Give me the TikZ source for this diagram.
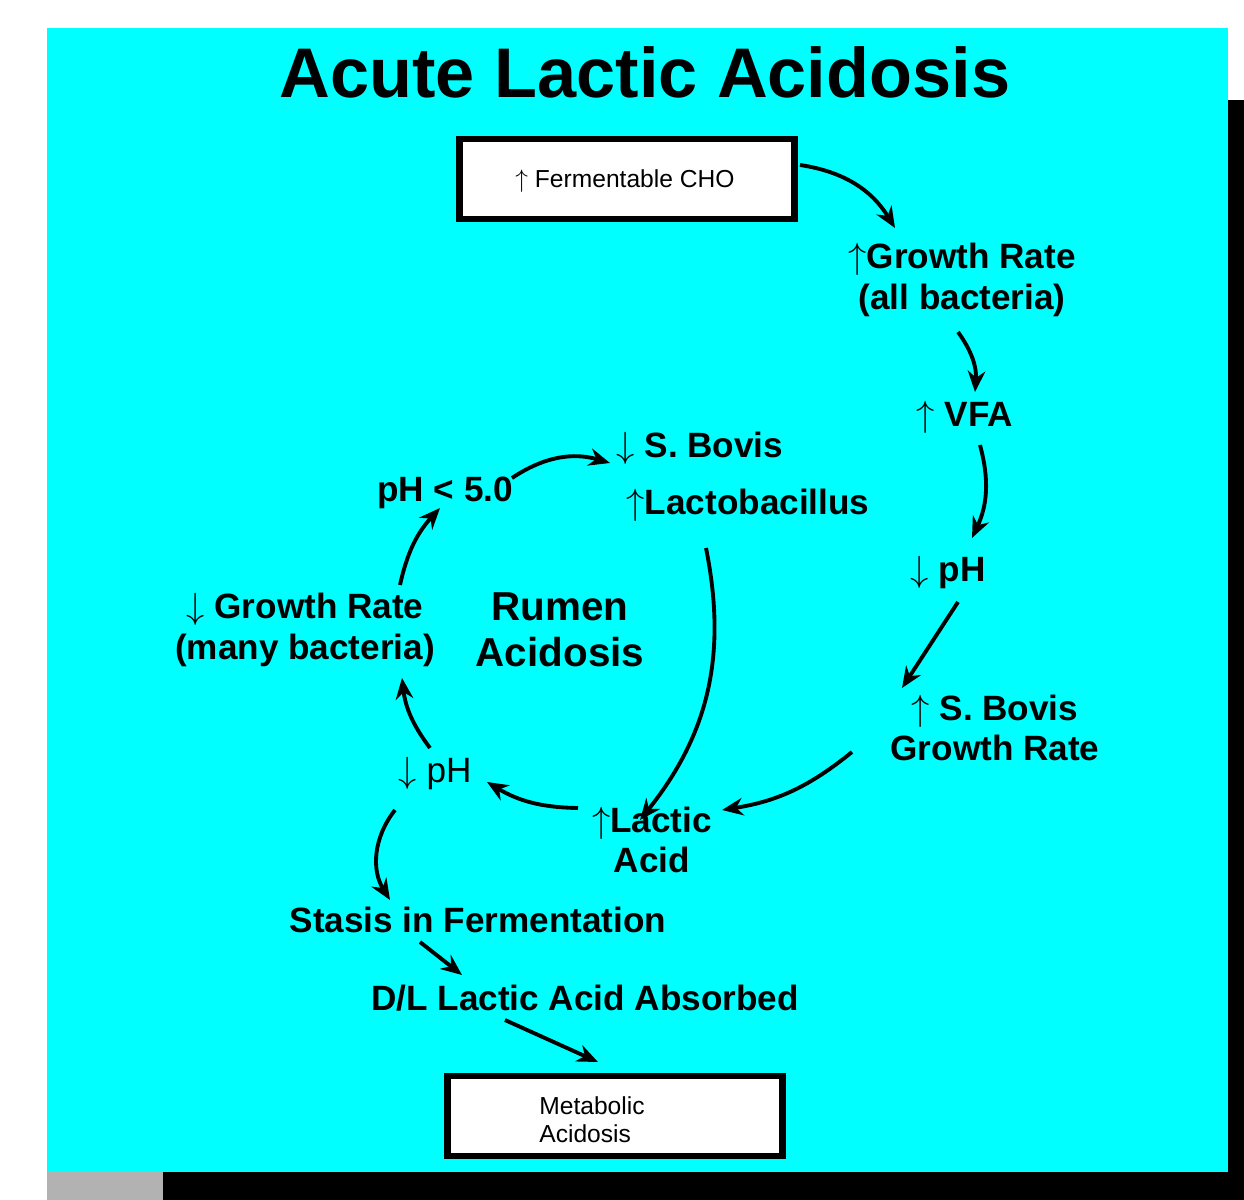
\documentclass[tikz,border=0pt]{standalone}
\usepackage{fontspec}
\setmainfont{Liberation Sans}
\usetikzlibrary{arrows.meta}
\definecolor{bg}{RGB}{0,255,255}
\begin{document}
\begin{tikzpicture}[x=0.02cm,y=-0.02cm,
 lbl/.style={font=\fontsize{20}{23}\selectfont\bfseries,align=center,inner sep=1pt},
 sm/.style={font=\fontsize{14}{16}\selectfont,align=left},
 box/.style={draw,line width=3.5pt,fill=white,minimum width=6.7cm,minimum height=1.6cm},
 arr/.style={-{Stealth[length=12pt,width=10pt]},line width=2.2pt}]
\useasboundingbox (0,0) rectangle (1244,1200);
\fill[white] (0,0) rectangle (1244,1200);
\fill[black] (163,1172) rectangle (1244,1200);
\fill[black] (1228,100) rectangle (1244,1200);
\fill[gray!60] (47,1172) rectangle (163,1200);
\fill[bg] (47,28) rectangle (1228,1172);
\node[font=\fontsize{40}{46}\selectfont\bfseries] (title) at (645,72) {Acute Lactic Acidosis};
\node[box] (cho) at (627,179) {};
\node[sm] (chot) at (625,181) {$\uparrow$ Fermentable CHO};
\node[lbl] (gr) at (962,280) {$\uparrow$Growth Rate\\(all bacteria)};
\node[lbl] (vfa) at (965,417) {$\uparrow$ VFA};
\node[lbl] (ph1) at (948,572) {$\downarrow$ pH};
\node[lbl] (sb) at (995,728) {$\uparrow$ S. Bovis\\Growth Rate};
\node[lbl] (la) at (652,840) {$\uparrow$Lactic\\Acid};
\node[lbl,font=\fontsize{20}{23}\selectfont] (ph2) at (435,773) {$\downarrow$ pH};
\node[lbl] (grm) at (305,630) {$\downarrow$ Growth Rate\\(many bacteria)};
\node[lbl] (ph5) at (445,493) {pH < 5.0};
\node[lbl] (sb2) at (700,448) {$\downarrow$ S. Bovis};
\node[lbl] (lb) at (748,505) {$\uparrow$Lactobacillus};
\node[lbl,font=\fontsize{23}{26}\selectfont\bfseries] (ra) at (560,630) {Rumen\\Acidosis};
\node[lbl] (st) at (478,920) {Stasis in Fermentation};
\node[lbl] (dl) at (585,998) {D/L Lactic Acid Absorbed};
\node[box] (mab) at (615,1116) {};
\node[sm] (ma) at (592,1120) {Metabolic\\Acidosis};
\draw[arr] (800,165) to[bend left=25] (895,228);
\draw[arr] (958,332) to[bend left=20] (975,392);
\draw[arr] (980,445) to[bend left=20] (972,538);
\draw[arr] (958,602) to (902,688);
\draw[arr] (852,752) to[bend left=15] (722,810);
\draw[arr] (706,548) to[bend left=25] (640,820);
\draw[arr] (578,808) to[bend left=15] (487,782);
\draw[arr] (430,748) to[bend left=15] (402,678);
\draw[arr] (400,585) to[bend left=15] (440,508);
\draw[arr] (512,478) to[bend left=25] (610,463);
\draw[arr] (395,810) to[bend right=35] (390,900);
\draw[arr] (420,942) to (462,975);
\draw[arr] (505,1020) to (598,1062);
\end{tikzpicture}
\end{document}
